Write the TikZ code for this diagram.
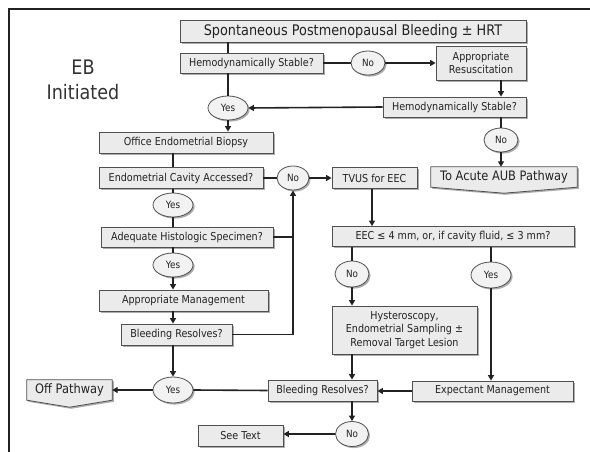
\documentclass[tikz,border=0pt]{standalone}
\usepackage{fontspec}
\setmainfont{DejaVu Sans}[FakeStretch=0.88]
\usetikzlibrary{arrows.meta,shapes.geometric,shadows,backgrounds}
\newcommand\fsz[2]{\fontsize{#1}{#2}\selectfont}
\definecolor{boxc}{HTML}{EBEBEB}
\definecolor{ovalc}{HTML}{F2F2F2}
\definecolor{bordc}{HTML}{505050}
\definecolor{linec}{HTML}{222222}
\definecolor{textc}{HTML}{222222}
\tikzset{
  shad/.style={drop shadow={shadow xshift=1.6pt,shadow yshift=-1.6pt,fill=black!40,opacity=0.8}},
  box/.style={draw=bordc,fill=boxc,line width=0.8pt,shad,inner sep=0pt,
    text=textc,font=\fsz{10.9}{13.3},align=center},
  oval/.style={ellipse,draw=bordc,fill=ovalc,line width=0.8pt,shad,inner sep=0pt,
    text=textc,font=\fsz{10}{12}},
  ln/.style={draw=linec,line width=1.6pt},
  arr/.style={ln,-{Triangle[length=5.5pt,width=6pt]}},
}
\begin{document}
\begin{tikzpicture}[x=1pt,y=-1pt]
\useasboundingbox (0,0) rectangle (590,452);
% frame
\coordinate (f1) at (9,452);
\coordinate (f2) at (9,9);
\coordinate (f3) at (590,9);
\draw[draw=linec,line width=1.3pt] (f1) -- (f2) -- (f3);
% column helpers
\coordinate (c501) at (501,0);
\coordinate (c173) at (173,0);
\coordinate (c352) at (352,0);
\coordinate (c491) at (491,0);
\coordinate (c372) at (372,0);
\coordinate (c228) at (228,0);
\coordinate (c293) at (293,0);

\node[font=\fsz{20}{25},align=center,text=black!80] (eb) at (83,80) {EB\\Initiated};

\node[box,minimum width=346,minimum height=22,font=\fsz{14.6}{17}] (top) at (353,31) {Spontaneous Postmenopausal Bleeding ± HRT};
\node[box,minimum width=143,minimum height=20] (hs1) at (251.5,63) {Hemodynamically Stable?};
\node[oval,minimum width=34,minimum height=24] (no1) at (368,63) {No};
\node[box,minimum width=90,minimum height=34] (resus) at (481,63) {Appropriate\\Resuscitation};
\node[box,minimum width=143,minimum height=20] (hs2) at (454.5,107) {Hemodynamically Stable?};
\node[oval,minimum width=40,minimum height=24] (yes1) at (228,108) {Yes};
\node[oval,minimum width=34,minimum height=24] (no2) at (501,140) {No};
\node[box,minimum width=174,minimum height=21] (biopsy) at (186,142.5) {Office Endometrial Biopsy};
\node[minimum width=146,minimum height=20,inner sep=0pt,text=textc,font=\fsz{13}{15}] (acute) at (504,177) {To Acute AUB Pathway};
\node[box,minimum width=164,minimum height=21] (eca) at (181,178) {Endometrial Cavity Accessed?};
\node[oval,minimum width=32,minimum height=24] (no3) at (293,178) {No};
\node[box,minimum width=85,minimum height=21] (tvus) at (374.5,178) {TVUS for EEC};
\node[oval,minimum width=40,minimum height=24] (yes2) at (173,205) {Yes};
\node[box,minimum width=172,minimum height=20] (ahs) at (187,237) {Adequate Histologic Specimen?};
\node[box,minimum width=242,minimum height=20] (eec) at (453,236.5) {EEC ≤ 4 mm, or, if cavity fluid, ≤ 3 mm?};
\node[oval,minimum width=40,minimum height=24] (yes3) at (173,265) {Yes};
\node[oval,minimum width=34,minimum height=26] (no4) at (352,274) {No};
\node[oval,minimum width=40,minimum height=26] (yes5) at (491,275) {Yes};
\node[box,minimum width=169,minimum height=21] (am) at (183.5,300.5) {Appropriate Management};
\node[box,minimum width=145,minimum height=48] (hyst) at (404.5,330) {Hysteroscopy,\\Endometrial Sampling ±\\Removal Target Lesion};
\node[box,minimum width=111,minimum height=21] (br1) at (176.5,334.5) {Bleeding Resolves?};
\node[oval,minimum width=40,minimum height=26] (yes4) at (173,390) {Yes};
\node[minimum width=85,minimum height=20,inner sep=0pt,text=textc,font=\fsz{13}{15}] (offp) at (69.5,390) {Off Pathway};
\node[box,minimum width=109,minimum height=21] (br2) at (322.5,390.5) {Bleeding Resolves?};
\node[box,minimum width=161,minimum height=20] (em) at (492.5,391) {Expectant Management};
\node[box,minimum width=85,minimum height=21] (see) at (240.5,435.5) {See Text};
\node[oval,minimum width=33,minimum height=25] (no5) at (352,434) {No};

\begin{pgfonlayer}{background}
\draw[draw=bordc,fill=boxc,line width=0.8pt,shad] (acute.north west) -- (acute.north east) -- (acute.south east) -- ([yshift=-6pt]acute.south) -- (acute.south west) -- cycle;
\draw[draw=bordc,fill=boxc,line width=0.8pt,shad] (offp.north west) -- (offp.north east) -- (offp.south east) -- ([yshift=-7pt]offp.south) -- (offp.south west) -- cycle;
\end{pgfonlayer}

% connectors
\draw[ln] (top.south -| c228) -- (hs1.north -| c228);
\draw[ln] (hs1) -- (no1);
\draw[arr] (no1) -- (resus);
\draw[arr] (resus.south -| c501) -- (hs2.north -| c501);
\draw[arr] (hs2.west) -- (yes1.east);
\draw[ln] (hs1.south -| c228) -- (yes1.north);
\draw[arr] (yes1.south) -- (biopsy.north -| c228);
\draw[ln] (hs2.south -| c501) -- (no2.north);
\draw[arr] (no2.south) -- (acute.north -| c501);
\draw[ln] (biopsy.south -| c173) -- (eca.north -| c173);
\draw[ln] (eca) -- (no3);
\draw[arr] (no3) -- (tvus);
\draw[ln] (eca.south -| c173) -- (yes2.north);
\draw[ln] (yes2.south) -- (ahs.north -| c173);
\draw[ln] (ahs.south -| c173) -- (yes3.north);
\draw[arr] (yes3.south) -- (am.north -| c173);
\draw[arr] (am.south -| c173) -- (br1.north -| c173);
\draw[ln] (ahs.east) -- (ahs.east -| c293);
\draw[arr] (br1.east) -| (no3.south);
\draw[arr] (br1.south -| c173) -- (yes4.north);
\draw[arr] (yes4.west) -- (offp.east);
\draw[ln] (br2.west) -- (yes4.east);
\draw[arr] (tvus.south -| c372) -- (eec.north -| c372);
\draw[ln] (eec.south -| c352) -- (no4.north);
\draw[arr] (no4.south) -- (hyst.north -| c352);
\draw[ln] (eec.south -| c491) -- (yes5.north);
\draw[arr] (yes5.south) -- (em.north -| c491);
\draw[arr] (hyst.south -| c352) -- (br2.north -| c352);
\draw[arr] (em.west) -- (em.west -| br2.east);
\draw[arr] (br2.south -| c352) -- (no5.north);
\draw[arr] (no5.west) -- (no5.west -| see.east);
\end{tikzpicture}
\end{document}
